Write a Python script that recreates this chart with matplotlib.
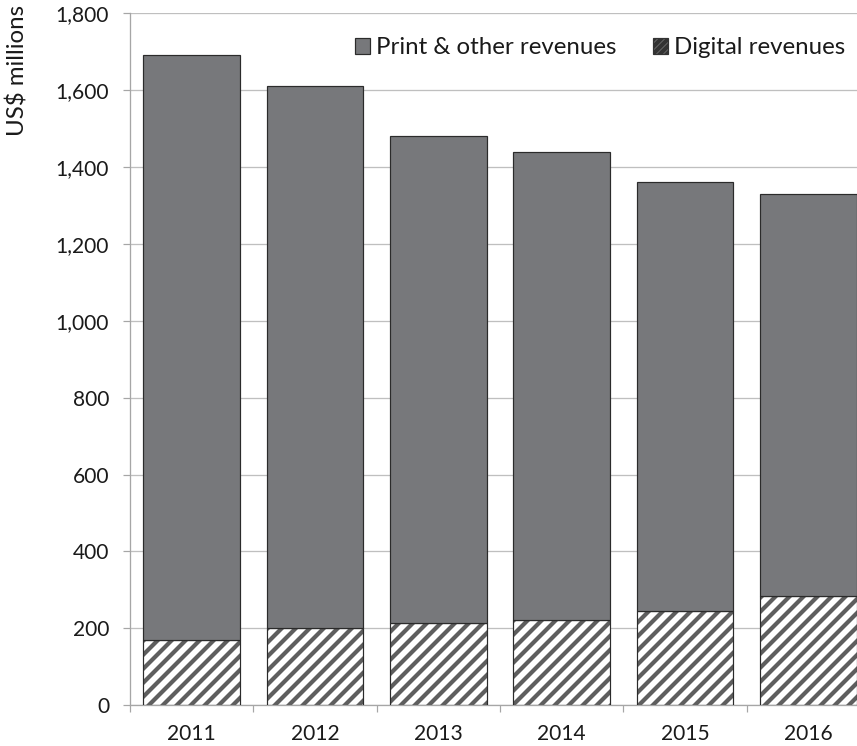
import matplotlib.pyplot as plt
import matplotlib.patches as mpatches
from matplotlib.ticker import FuncFormatter
import numpy as np

plt.rcParams["font.family"] = ["Lato", "DejaVu Sans"]
plt.rcParams["hatch.linewidth"] = 3.6

years = ["2011", "2012", "2013", "2014", "2015", "2016"]
digital = [169, 202, 213, 223, 246, 283]
print_other = [1523, 1407, 1267, 1215, 1114, 1046]

DPI = 84
W, H = 858, 746


def px(v):
    # pixels -> points at this dpi
    return v * 72 / DPI


fig = plt.figure(figsize=(W / DPI, H / DPI), dpi=DPI)
ax = fig.add_axes([130 / W, 1 - 705.3 / H, 740 / W, (705.3 - 13) / H])

x = np.arange(len(years))
width = 0.784
dark = "#2b2b2b"
ax.bar(x, digital, width, color="white", edgecolor="#5e5e5e", hatch="//", linewidth=0, zorder=2)
ax.bar(x, digital, width, fill=False, edgecolor=dark, linewidth=px(1.2), zorder=3)
ax.bar(x, print_other, width, bottom=digital, color="#77787b", edgecolor=dark, linewidth=px(1.2), zorder=3)

ax.set_xlim(-0.5, len(years) - 0.5)
ax.set_ylim(0, 1800)
ax.set_yticks(range(0, 1801, 200))
ax.yaxis.set_major_formatter(FuncFormatter(lambda v, p: f"{int(v):,}"))
ax.set_xticks(x)
ax.set_xticklabels(years)
ax.set_xticks(np.arange(len(years) + 1) - 0.5, minor=True)

fs = px(21)
ax.tick_params(axis="y", length=px(7), color="#a6a6a6", width=px(1.2), pad=px(14), labelsize=fs, labelcolor="#1a1a1a")
ax.tick_params(axis="x", which="major", length=0, pad=px(19), labelsize=fs, labelcolor="#1a1a1a")
ax.tick_params(axis="x", which="minor", length=px(7), color="#a6a6a6", width=px(1.2))

ax.yaxis.grid(True, color="#bfbfbf", linewidth=px(1.3))
ax.set_axisbelow(True)
for side in ["top", "right"]:
    ax.spines[side].set_visible(False)
for side in ["left", "bottom"]:
    ax.spines[side].set_color("#a6a6a6")
    ax.spines[side].set_linewidth(px(1.3))

fig.text(18 / W, 1 - 70 / H, "US$ millions", rotation=90, ha="center", va="center", fontsize=px(24), color="#1a1a1a")

handles = [
    mpatches.Patch(facecolor="#77787b", edgecolor=dark, linewidth=px(1.2), label="Print & other revenues"),
    mpatches.Patch(facecolor="#777777", edgecolor="#333333", hatch="////", linewidth=px(1.2), label="Digital revenues"),
]
fig.legend(handles=handles, loc="center right", bbox_to_anchor=(845 / W, 1 - 48 / H), ncol=2, frameon=False,
           fontsize=px(24), handlelength=0.62, handleheight=0.62, handletextpad=0.25, columnspacing=1.5,
           borderaxespad=0, borderpad=0, labelcolor="#1a1a1a")

fig.savefig("out.png", dpi=DPI)
